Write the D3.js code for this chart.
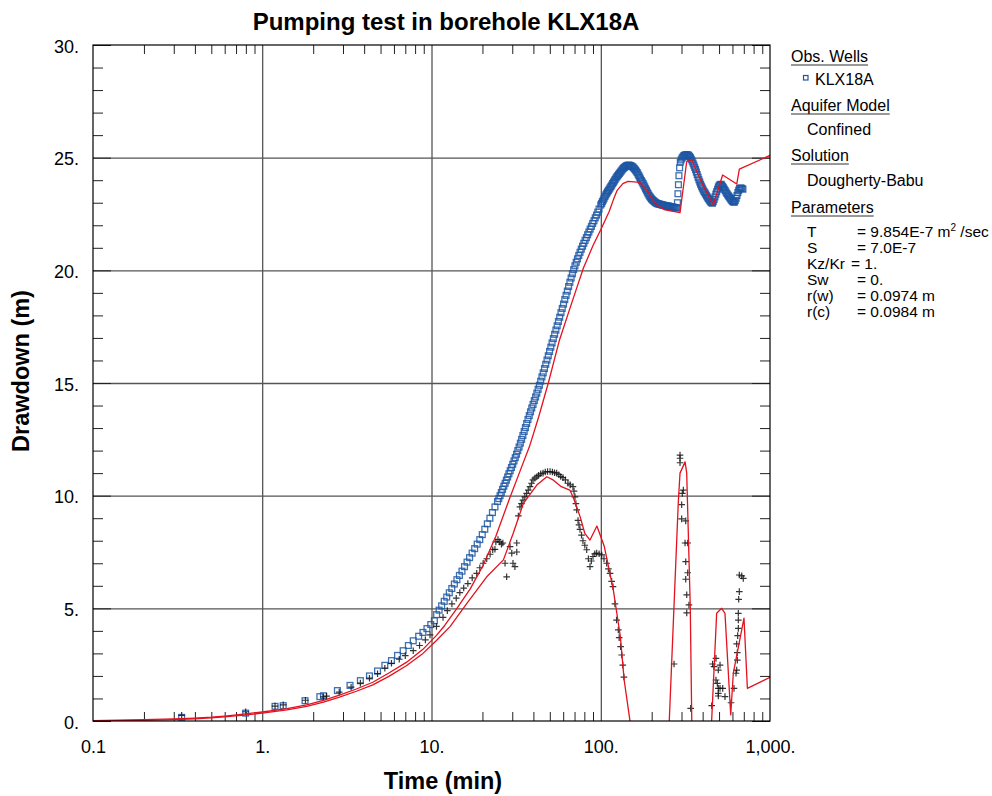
<!DOCTYPE html>
<html>
<head>
<meta charset="utf-8">
<script src="https://cdn.jsdelivr.net/npm/d3@7/dist/d3.min.js"></script>
<style>
  body { margin: 0; background: #fff; }
  svg text { font-family: "Liberation Sans", Arial, Helvetica, sans-serif; fill: #000; }
</style>
</head>
<body>
<svg id="chart" width="992" height="796"></svg>
<script>
// ---- axis ticks ----
const xTicks = [0.1, 1, 10, 100, 1000];
const xTickLabels = ["0.1", "1.", "10.", "100.", "1,000."];
const yTicks = [0, 5, 10, 15, 20, 25, 30];
const yTickLabels = ["0.", "5.", "10.", "15.", "20.", "25.", "30."];

// ---- observed drawdown, KLX18A: [time (min), drawdown (m)] ----
const drawdownObs = [
  [0.334, 0.16], [0.798, 0.35], [1.19, 0.65], [1.33, 0.68], [1.79, 0.9], [2.19, 1.08], [2.3, 1.12],
  [2.78, 1.35], [3.3, 1.58], [3.8, 1.79], [4.3, 2.0], [4.8, 2.22], [5.3, 2.47], [5.8, 2.68],
  [6.3, 2.91], [6.8, 3.12], [7.3, 3.35], [7.8, 3.56], [8.4, 3.76], [8.9, 3.93], [9.4, 4.1],
  [9.9, 4.28], [10.4, 4.45],
  [10.72, 4.72], [11.09, 4.92], [11.48, 5.11], [11.89, 5.31], [12.30, 5.5], [12.74, 5.69],
  [13.18, 5.88], [13.65, 6.08], [14.13, 6.27], [14.62, 6.46], [15.14, 6.65], [15.67, 6.85],
  [16.22, 7.05], [16.79, 7.25], [17.38, 7.45], [17.99, 7.65], [18.62, 7.85], [19.28, 8.05],
  [19.95, 8.27], [20.65, 8.51], [21.38, 8.75], [22.13, 9.0], [22.91, 9.25], [23.71, 9.5],
  [24.55, 9.74], [24.98, 9.87], [25.41, 10.0], [25.85, 10.14], [26.30, 10.28], [26.76, 10.42],
  [27.23, 10.55], [27.70, 10.69], [28.18, 10.83], [28.67, 10.97], [29.17, 11.11], [29.68, 11.25],
  [30.20, 11.39], [30.72, 11.54], [31.26, 11.69], [31.80, 11.84], [32.36, 12.0], [32.92, 12.16],
  [33.50, 12.33], [34.08, 12.5], [34.67, 12.67], [35.28, 12.85], [35.89, 13.02], [36.51, 13.2],
  [37.15, 13.38], [37.80, 13.55], [38.46, 13.72], [39.13, 13.89], [39.81, 14.05], [40.50, 14.22],
  [41.21, 14.38], [41.93, 14.55], [42.66, 14.72], [43.40, 14.9], [44.16, 15.08], [44.93, 15.27],
  [45.71, 15.45], [46.51, 15.64], [47.32, 15.83], [48.14, 16.02], [48.98, 16.21], [49.83, 16.4],
  [50.70, 16.59], [51.58, 16.78], [52.48, 16.97], [53.40, 17.16], [54.33, 17.35], [55.27, 17.54],
  [56.23, 17.73], [57.21, 17.92], [58.21, 18.12], [59.22, 18.31], [60.26, 18.5], [61.30, 18.7],
  [62.37, 18.89], [63.46, 19.08], [64.57, 19.28], [65.69, 19.47], [66.83, 19.66], [67.99, 19.85],
  [69.18, 20.03], [70.39, 20.2], [71.61, 20.36], [72.86, 20.51], [74.13, 20.66], [75.42, 20.8],
  [76.74, 20.94], [78.07, 21.07], [79.43, 21.2], [80.81, 21.33], [82.22, 21.45], [83.66, 21.58],
  [85.11, 21.7], [86.60, 21.83], [88.10, 21.95], [89.64, 22.08], [91.20, 22.2], [92.79, 22.33],
  [94.41, 22.45], [96.05, 22.58], [97.72, 22.72],
  [100.0, 22.9], [101.2, 22.97], [102.3, 23.05], [103.5, 23.12], [104.7, 23.2], [105.9, 23.28],
  [107.2, 23.35], [108.4, 23.42], [109.6, 23.48], [110.9, 23.54], [112.2, 23.6], [113.5, 23.66],
  [114.8, 23.72], [116.1, 23.78], [117.5, 23.85], [118.9, 23.91], [120.2, 23.97], [121.6, 24.03],
  [123.0, 24.1], [124.5, 24.15], [125.9, 24.2], [127.4, 24.25], [128.8, 24.3], [130.3, 24.35],
  [131.8, 24.4], [133.4, 24.45], [134.9, 24.5], [136.5, 24.54], [138.0, 24.57], [139.6, 24.6],
  [141.3, 24.63], [142.9, 24.65], [144.5, 24.66], [146.2, 24.67], [147.9, 24.66], [149.6, 24.65],
  [151.4, 24.63], [153.1, 24.61], [154.9, 24.58], [156.7, 24.54], [158.5, 24.5], [160.3, 24.45],
  [162.2, 24.4], [164.1, 24.34], [166.0, 24.27], [167.9, 24.2], [169.8, 24.13], [171.8, 24.05],
  [173.8, 23.98], [175.8, 23.92], [177.8, 23.85], [179.9, 23.78], [182.0, 23.7], [184.1, 23.62],
  [186.2, 23.55], [188.4, 23.47], [190.5, 23.4], [192.8, 23.33], [195.0, 23.27], [197.2, 23.22],
  [199.5, 23.17], [201.8, 23.13], [204.2, 23.1], [206.5, 23.06], [208.9, 23.03], [211.3, 23.0],
  [213.8, 22.98], [216.3, 22.96], [218.8, 22.95], [221.3, 22.94], [223.9, 22.93], [226.5, 22.92],
  [229.1, 22.91], [231.7, 22.9], [234.4, 22.89], [237.1, 22.88], [239.9, 22.87], [242.7, 22.86],
  [245.5, 22.86], [248.3, 22.85], [251.2, 22.85], [254.1, 22.84], [257.0, 22.83], [260.0, 22.82],
  [263.0, 22.81], [266.1, 22.8], [269.2, 22.8], [272.3, 22.79], [275.4, 22.78], [278.6, 22.78],
  [281.8, 22.77],
  [283.8, 23.0], [285.8, 23.4], [287.7, 23.8], [289.7, 24.2], [292.4, 24.55], [295.1, 24.8],
  [298.5, 24.9], [302.0, 24.98], [305.5, 25.03], [309.0, 25.08], [312.6, 25.1], [316.2, 25.12],
  [319.9, 25.13], [323.6, 25.13], [327.3, 25.12], [331.1, 25.1], [335.0, 25.05], [338.8, 25.0],
  [342.8, 24.93], [346.7, 24.85], [350.8, 24.76], [354.8, 24.67], [358.9, 24.57], [363.1, 24.47],
  [367.3, 24.36], [371.5, 24.25], [375.8, 24.13], [380.2, 24.02], [384.6, 23.92], [389.0, 23.82],
  [393.6, 23.73], [398.1, 23.65], [402.7, 23.57], [407.4, 23.5], [412.1, 23.44], [416.9, 23.38],
  [421.7, 23.31], [426.6, 23.25], [431.5, 23.19], [436.5, 23.13], [441.6, 23.08], [446.7, 23.03],
  [451.9, 23.0], [457.1, 22.98], [462.4, 23.05], [467.7, 23.15], [473.2, 23.26], [478.6, 23.38],
  [484.2, 23.49], [489.8, 23.6], [495.5, 23.7], [501.2, 23.77], [507.0, 23.8], [512.9, 23.82],
  [518.8, 23.78], [524.8, 23.72], [530.9, 23.66], [537.0, 23.6], [543.3, 23.54], [549.5, 23.47],
  [555.9, 23.41], [562.3, 23.35], [568.9, 23.3], [575.4, 23.25], [582.1, 23.19], [588.8, 23.13],
  [595.7, 23.09], [602.6, 23.05], [609.5, 23.03], [616.6, 23.03], [623.7, 23.1], [631.0, 23.2],
  [638.3, 23.32], [645.7, 23.45], [653.1, 23.55], [660.7, 23.63], [668.3, 23.65], [676.1, 23.65],
  [683.9, 23.63], [691.8, 23.6]
];

// ---- observed drawdown derivative: [time (min), value] ----
const derivativeObs = [
  [0.334, 0.25], [0.798, 0.41], [1.19, 0.66], [1.33, 0.72], [1.8, 0.92], [2.3, 1.07], [2.4, 1.1],
  [2.85, 1.28], [3.35, 1.5], [3.8, 1.68], [4.3, 1.9], [4.8, 2.1], [5.3, 2.34], [5.8, 2.56],
  [6.45, 2.74], [7.0, 2.9], [7.8, 3.12], [8.5, 3.35], [9.2, 3.6], [9.8, 3.82], [10.7, 4.2],
  [11.7, 4.6], [12.4, 4.9], [13.2, 5.2], [14.0, 5.45], [14.7, 5.7], [15.5, 5.9], [16.4, 6.1],
  [17.4, 6.35], [18.5, 6.55], [19.3, 6.8], [20.2, 7.0], [21.2, 7.2], [22.2, 7.4], [23.0, 7.6],
  [23.7, 7.62], [24.0, 7.95], [24.7, 8.05], [25.3, 7.95], [25.9, 7.85], [26.4, 7.9], [27.2, 7.0],
  [27.8, 6.4], [29.1, 7.74], [29.8, 7.45], [30.3, 7.0], [31.1, 6.85], [31.9, 7.5], [31.9, 7.9],
  [32.6, 9.1], [33.3, 9.5], [34.0, 9.65], [34.7, 9.8], [35.6, 9.95], [36.5, 10.1], [37.3, 10.25],
  [38.2, 10.4], [39.0, 10.55], [39.8, 10.7], [40.8, 10.78], [41.9, 10.84], [42.9, 10.9],
  [44.2, 10.97], [45.6, 11.0], [47.0, 11.05], [48.5, 11.07], [50.2, 11.07], [51.8, 11.05],
  [53.3, 11.02], [54.9, 11.0], [56.5, 10.93], [58.0, 10.85], [59.8, 10.8], [61.8, 10.7],
  [64.0, 10.55], [66.0, 10.48], [68.5, 10.4], [69.5, 10.2], [70.4, 9.95], [71.3, 9.65],
  [72.1, 9.37], [73.4, 8.9], [74.4, 8.7], [75.4, 8.5], [77.0, 8.25], [78.5, 8.0], [80.5, 7.8],
  [82.6, 7.6], [84.5, 7.2], [86.4, 6.85], [88.0, 7.1], [90.0, 7.3], [92.2, 7.42], [94.6, 7.45],
  [97.8, 7.42], [101.3, 7.37], [104.5, 7.2], [108.4, 7.0], [111.0, 6.75], [113.5, 6.55],
  [116.0, 6.2], [118.1, 5.96], [121.3, 5.2], [124.0, 4.48], [127.0, 4.04], [128.5, 3.7],
  [131.0, 3.3], [133.0, 2.93], [135.0, 2.48], [137.0, 1.95],
  [271.0, 2.53], [294.0, 11.8], [294.0, 11.66], [294.0, 11.46], [307.6, 10.25], [303.4, 10.1],
  [300.7, 9.6], [300.7, 8.97], [317.7, 8.88], [314.8, 7.9], [326.5, 7.9], [317.7, 7.07],
  [326.5, 6.58], [317.7, 6.29], [322.1, 5.6], [332.0, 5.15], [322.1, 4.8], [339.8, 0.56],
  [452.5, 0.68], [458.0, 2.53], [467.0, 2.41], [479.5, 2.78], [495.0, 2.26], [506.6, 2.48],
  [479.5, 1.82], [488.5, 1.67], [495.0, 1.45], [506.6, 1.45], [525.5, 1.45], [495.0, 1.23],
  [495.0, 1.11], [542.0, 1.08], [588.5, 0.81], [612.7, 1.45], [629.8, 2.12], [635.6, 2.26],
  [641.0, 2.7], [641.0, 3.03], [635.6, 3.42], [644.3, 3.79], [650.0, 4.11], [650.0, 4.48],
  [650.0, 4.78], [653.0, 5.4], [658.7, 5.74], [658.7, 6.48], [680.7, 6.44], [695.3, 6.33]
];

// ---- Dougherty-Babu model curves: [time (min), value] ----
const drawdownModel = [
  [0.1, 0.02], [0.2, 0.06], [0.3, 0.09], [0.4, 0.13], [0.5, 0.17], [0.6, 0.22], [0.75, 0.29],
  [1.0, 0.4], [1.4, 0.55], [1.83, 0.72], [2.3, 0.92], [2.86, 1.15], [3.6, 1.42], [4.5, 1.72],
  [5.6, 2.13], [7.1, 2.6], [8.9, 3.18], [10.7, 3.8], [12.0, 4.25], [14.0, 4.95], [16.9, 5.85],
  [20.0, 6.85], [24.0, 8.2], [29.0, 9.9], [33.0, 11.0], [38.0, 12.2], [43.0, 13.5], [49.0, 15.0],
  [57.0, 16.9], [65.0, 18.2], [72.0, 19.2], [79.0, 20.1], [90.0, 21.1], [100.0, 21.8],
  [112.0, 22.6], [119.0, 23.15], [125.0, 23.55], [135.0, 23.85], [145.0, 23.95], [170.0, 23.9],
  [185.0, 23.6], [204.0, 23.1], [220.0, 22.85], [240.0, 22.68], [294.0, 22.56], [322.0, 24.83],
  [345.0, 24.9], [400.0, 23.8], [462.0, 22.9], [525.0, 24.23], [636.0, 23.83], [659.0, 24.49],
  [1000.0, 25.1]
];

const derivativeModel = [
  [0.1, 0.0], [0.2, 0.03], [0.3, 0.06], [0.4, 0.1], [0.5, 0.14], [0.6, 0.18], [0.75, 0.25],
  [1.0, 0.35], [1.4, 0.49], [1.83, 0.65], [2.3, 0.84], [2.86, 1.06], [3.6, 1.32], [4.5, 1.6],
  [5.6, 1.98], [7.1, 2.45], [8.9, 3.0], [10.7, 3.57], [12.9, 4.2], [16.1, 5.2], [21.2, 6.4],
  [26.6, 7.15], [30.4, 8.33], [34.9, 9.66], [41.9, 10.47], [48.0, 10.84], [52.3, 10.7],
  [58.5, 10.4], [65.6, 10.25], [68.6, 9.95], [75.5, 9.07], [80.5, 8.33], [86.4, 8.03],
  [94.9, 8.65], [105.0, 7.74], [118.7, 5.81], [130.6, 3.74], [137.5, 1.82], [148.6, 0.04],
  [155.0, -2.0], [248.0, -2.0], [254.0, 0.0], [287.0, 9.66], [294.0, 11.0], [315.0, 11.5],
  [322.0, 11.0], [338.0, 5.07], [345.0, 0.0], [350.0, -2.0], [446.0, -2.0], [452.0, 0.0],
  [484.0, 4.78], [518.0, 5.0], [542.0, 4.78], [586.0, 0.27], [607.0, 2.12], [702.0, 4.56],
  [735.0, 1.45], [1000.0, 1.94]
];

// ---- legend / parameter panel ----
const legendSections = ["Obs. Wells", "Aquifer Model", "Solution", "Parameters"];
const aquiferModel = "Confined";
const solutionName = "Dougherty-Babu";
const wellName = "KLX18A";
const paramNames = ["T", "S", "Kz/Kr", "Sw", "r(w)", "r(c)"];
const paramValues = ["= 9.854E-7 m", "= 7.0E-7", "= 1.", "= 0.", "= 0.0974 m", "= 0.0984 m"];

// ---- layout ----
const plot = { left: 93, top: 45, right: 770, bottom: 721 };
const BLUE = "#1c56a3";
const RED = "#e3121e";

const svg = d3.select("#chart");
const x = d3.scaleLog().domain([0.1, 1000]).range([plot.left, plot.right]);
const y = d3.scaleLinear().domain([0, 30]).range([plot.bottom, plot.top]);
const pw = plot.right - plot.left, ph = plot.bottom - plot.top;

svg.append("defs").append("clipPath").attr("id", "plotClip")
  .append("rect").attr("x", plot.left).attr("y", plot.top).attr("width", pw).attr("height", ph);

// grid lines
const gridX = [1, 10, 100];
const gridY = [5, 10, 15, 20, 25];
svg.append("g").attr("transform", `translate(0,${plot.bottom})`)
  .call(d3.axisBottom(x).tickValues(gridX).tickSize(-ph).tickFormat(""))
  .call(g => g.select(".domain").remove())
  .call(g => g.selectAll("line").attr("stroke", "#222").attr("stroke-width", 1));
svg.append("g").attr("transform", `translate(${plot.left},0)`)
  .call(d3.axisLeft(y).tickValues(gridY).tickSize(-pw).tickFormat(""))
  .call(g => g.select(".domain").remove())
  .call(g => g.selectAll("line").attr("stroke", "#555").attr("stroke-width", 1.3));

// minor ticks (inside the frame)
const minorX = [];
for (const dec of [0.1, 1, 10, 100]) for (let k = 2; k <= 9; k++) minorX.push(+(dec * k).toPrecision(3));
const minorY = d3.range(1, 30).filter(v => v % 5 !== 0);
function tickGroup(axis, tx, ty) {
  svg.append("g").attr("transform", `translate(${tx},${ty})`).call(axis)
    .call(g => g.select(".domain").remove())
    .call(g => g.selectAll("line").attr("stroke", "#222").attr("stroke-width", 1));
}
tickGroup(d3.axisBottom(x).tickValues(minorX).tickSize(-9).tickFormat(""), 0, plot.bottom);
tickGroup(d3.axisTop(x).tickValues(minorX).tickSize(-9).tickFormat(""), 0, plot.top);
tickGroup(d3.axisLeft(y).tickValues(minorY).tickSize(-10).tickFormat(""), plot.left, 0);
tickGroup(d3.axisRight(y).tickValues(minorY).tickSize(-10).tickFormat(""), plot.right, 0);
tickGroup(d3.axisLeft(y).tickValues(yTicks).tickSize(-18).tickFormat(""), plot.left, 0);
tickGroup(d3.axisRight(y).tickValues(yTicks).tickSize(-18).tickFormat(""), plot.right, 0);

// tick labels
svg.append("g").attr("transform", `translate(0,${plot.bottom})`)
  .call(d3.axisBottom(x).tickValues(xTicks).tickSize(0).tickPadding(19)
    .tickFormat((d, i) => xTickLabels[i]))
  .call(g => g.select(".domain").remove())
  .call(g => g.selectAll("text").attr("font-size", 18).attr("font-family", null).attr("fill", "#000"));
svg.append("g").attr("transform", `translate(${plot.left},0)`)
  .call(d3.axisLeft(y).tickValues(yTicks).tickSize(0).tickPadding(14)
    .tickFormat((d, i) => yTickLabels[i]))
  .call(g => g.select(".domain").remove())
  .call(g => g.selectAll("text").attr("font-size", 18).attr("dy", "0.4em").attr("font-family", null).attr("fill", "#000"));

// data layer
const layer = svg.append("g").attr("clip-path", "url(#plotClip)");

// observed drawdown: open squares
const sq = 5.8;
layer.append("g").selectAll("rect").data(drawdownObs).join("rect")
  .attr("x", d => x(d[0]) - sq / 2).attr("y", d => y(d[1]) - sq / 2)
  .attr("width", sq).attr("height", sq)
  .attr("fill", "none").attr("stroke", BLUE).attr("stroke-width", 1.3).attr("stroke-opacity", 0.85);

// derivative: plus signs
const ps = 3.3;
layer.append("g").selectAll("path").data(derivativeObs).join("path")
  .attr("d", d => {
    const cx = x(d[0]), cy = y(d[1]);
    return `M${cx - ps},${cy}H${cx + ps}M${cx},${cy - ps}V${cy + ps}`;
  })
  .attr("stroke", "#111").attr("stroke-width", 1.2).attr("stroke-opacity", 0.85).attr("fill", "none");

// model curves
const line = d3.line().x(d => x(d[0])).y(d => y(d[1]));
for (const series of [drawdownModel, derivativeModel]) {
  layer.append("path").datum(series).attr("d", line)
    .attr("fill", "none").attr("stroke", RED).attr("stroke-width", 1.3).attr("stroke-linejoin", "round");
}

// frame
svg.append("rect").attr("x", plot.left).attr("y", plot.top).attr("width", pw).attr("height", ph)
  .attr("fill", "none").attr("stroke", "#000").attr("stroke-width", 1.2);

// titles
svg.append("text").attr("x", 446).attr("y", 30).attr("text-anchor", "middle")
  .attr("font-size", 24).attr("font-weight", "bold").text("Pumping test in borehole KLX18A");
svg.append("text").attr("x", 443).attr("y", 789).attr("text-anchor", "middle")
  .attr("font-size", 23.5).attr("font-weight", "bold").text("Time (min)");
svg.append("text").attr("transform", "translate(29,371) rotate(-90)").attr("text-anchor", "middle")
  .attr("font-size", 23.5).attr("font-weight", "bold").text("Drawdown (m)");

// legend panel
const lg = svg.append("g");
function heading(label, yb) {
  const t = lg.append("text").attr("x", 791).attr("y", yb).attr("font-size", 16).text(label);
  const len = t.node().getComputedTextLength();
  lg.append("line").attr("x1", 791).attr("x2", 791 + len).attr("y1", yb + 3).attr("y2", yb + 3)
    .attr("stroke", "#333").attr("stroke-width", 1);
}
heading(legendSections[0], 62);
lg.append("rect").attr("x", 803.5).attr("y", 75.5).attr("width", 4.5).attr("height", 4.5)
  .attr("fill", "none").attr("stroke", BLUE).attr("stroke-width", 1.2);
lg.append("text").attr("x", 815).attr("y", 85).attr("font-size", 16).text(wellName);
heading(legendSections[1], 111);
lg.append("text").attr("x", 807).attr("y", 135).attr("font-size", 16).text(aquiferModel);
heading(legendSections[2], 161);
lg.append("text").attr("x", 807).attr("y", 186).attr("font-size", 16).text(solutionName);
heading(legendSections[3], 213);
paramNames.forEach((n, i) => {
  const yb = 237 + i * 16;
  lg.append("text").attr("x", 807).attr("y", yb).attr("font-size", 15.5).text(n);
  const v = lg.append("text").attr("x", n === "Kz/Kr" ? 851 : 857).attr("y", yb).attr("font-size", 15.5)
    .text(paramValues[i]);
  if (i === 0) {
    v.append("tspan").attr("font-size", 10).attr("dy", -6).text("2");
    v.append("tspan").attr("dy", 6).text(" /sec");
  }
});
</script>
</body>
</html>
